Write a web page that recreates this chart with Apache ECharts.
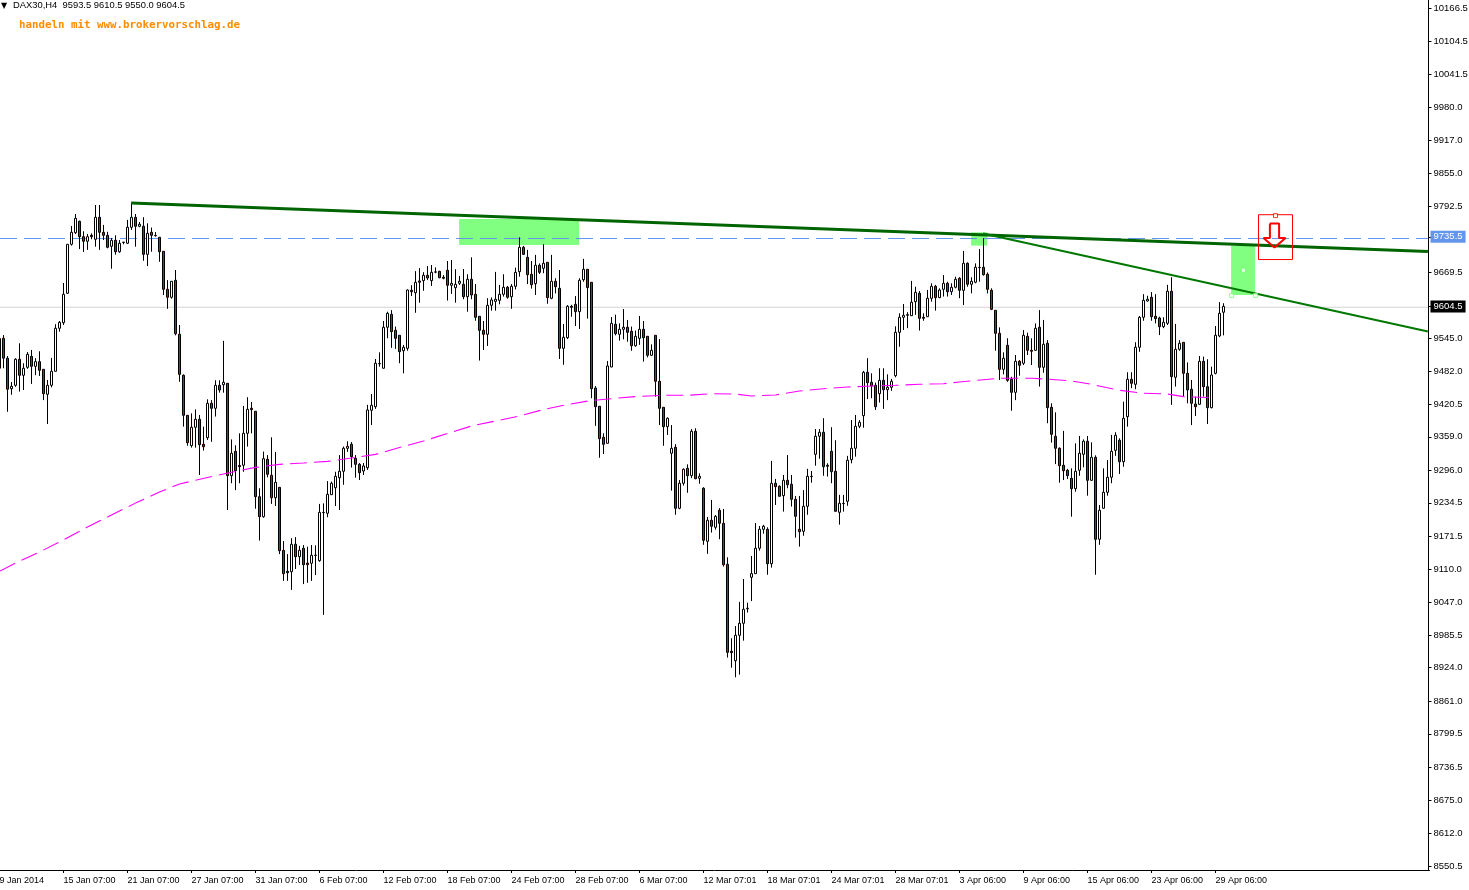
<!DOCTYPE html>
<html><head><meta charset="utf-8"><title>DAX30,H4</title>
<script src="https://cdn.jsdelivr.net/npm/echarts@6/dist/echarts.min.js"></script>
<style>html,body{margin:0;padding:0;background:#fff}#c{width:1469px;height:890px}</style></head>
<body><div id="c"></div>
<script>
const opens=[9488,
9544.4,9506.8,9449.5,9455.9,9504.9,9474.8,9489.8,9510.5,9491.7,9500.4,
9486,9439,9455.9,9482.3,9563.3,9573.8,9629.2,9721.5,9743.3,9764.8,
9735.8,9727.2,9738.4,9730.9,9772.3,9744,9738.4,9717.7,9729,9707.5,
9725,9723.4,9753.5,9772.3,9755.4,9755.4,9702.6,9744.1,9738,9734.7,
9708.3,9636.7,9621.7,9653.7,9552,9474.8,9399.4,9342.2,9376.8,9391.9,
9344.8,9357.2,9422,9412.6,9455.9,9457,9459.7,9285.7,9331.6,9305,
9305.3,9365.5,9412.6,9407,9246.1,9208.4,9316.6,9286.4,9244.2,9263.8,
9145,9105.6,9104.9,9156.5,9133.1,9149,9121,9120.7,9135.5,9125.6,
9216,9214.9,9249.9,9263,9281.9,9294,9337.3,9344.8,9318.4,9307.1,
9294.5,9300.7,9408.9,9415.6,9496.5,9488,9565.2,9589.6,9559.5,9550.1,
9521,9525.6,9634.8,9630.3,9652.4,9653,9663.1,9653,9669,9670.6,
9659.3,9672.5,9644.3,9639.7,9648,9646.2,9622.8,9655.6,9627.3,9585.9,
9559.5,9552,9606.6,9614,9616,9627.3,9640.5,9622.8,9642.4,9669.9,
9715.8,9697,9665,9647.3,9682,9676.3,9687.6,9619.8,9651.8,9638.6,
9525.6,9545.6,9604.7,9608.5,9594.6,9654.8,9674.4,9649.9,9450.8,9416.4,
9358,9346.7,9490.4,9570.8,9552,9561.4,9565.2,9557.6,9530.5,9544.4,
9561.4,9548.2,9512.4,9550.1,9463.5,9414.5,9378,9327.9,9339.2,9224.3,
9271.4,9299.6,9285.7,9369.3,9280.8,9262,9162.1,9201.7,9188.5,9220.5,
9196,9118.8,8955,8937.2,8985,9007.7,9035,9094.3,9101.1,9149,
9184.7,9184.7,9119.9,9271.4,9265.7,9248,9277,9269.5,9241.2,9184.7,
9181,9228,9284,9326,9360,9367.4,9305.3,9331.6,9294,9216.7,
9233,9237.4,9315.8,9337.3,9378.7,9398.7,9480.4,9461.6,9455.9,9440.1,
9465.3,9447.6,9452.2,9474,9555.7,9584,9587.8,9587,9613.4,9629.2,
9584,9585.1,9619.8,9642.4,9621,9636.7,9648,9632.2,9640.5,9657.4,
9634.8,9685.7,9646.2,9650,9677.5,9678.2,9665,9634.8,9597.2,9553.9,
9486,9531.3,9467.2,9442.7,9501.1,9497.4,9548.2,9521.8,9521.8,9565.2,
9489.8,9535,9414.5,9359.9,9337.3,9305.3,9295.9,9280.8,9261.2,9295.9,
9326,9350.5,9277,9320.3,9165.9,9224.3,9254.4,9282.7,9333.5,9352.4,
9312,9396.8,9467.2,9457.8,9527.5,9584,9614.7,9621.7,9585.9,9582.7,
9566.3,9572.7,9633,9471,9523.7,9536.9,9478.5,9448.4,9420.7,9420.1,
9501.1,9453.3,9413.8,9478.5,9548.8,9593.5];
const closes=[9544,
9507,9448.5,9454,9505,9474.8,9488,9514.3,9491.7,9500.4,9484.2,
9440.1,9455.9,9482.3,9563.3,9574.6,9627.3,9721.5,9744.1,9770.4,9735.8,
9727.2,9735.8,9735.8,9772.3,9744.1,9738.4,9715.8,9729,9707.5,9723.4,
9725.5,9753.5,9772.3,9755.4,9759.2,9702.6,9742.2,9738.4,9737.5,9707.5,
9636.7,9621.7,9651.8,9553.1,9476.6,9399.4,9347.8,9376.8,9391.9,9344.1,
9340.3,9422,9412.6,9455.9,9447.1,9461.6,9285.7,9327.9,9295.1,9302.6,
9365.5,9410.7,9410,9246.1,9208.4,9317.7,9288.3,9244.2,9273.2,9144.4,
9101.1,9103,9156.5,9133.1,9145.2,9118,9118,9135.7,9136,9216.7,
9216.5,9250.6,9271.4,9284.5,9294,9337.3,9341,9321.5,9307.1,9291.3,
9304,9409.4,9418.3,9497.4,9497,9565.2,9591.5,9556.9,9544.4,9519.2,
9527.5,9635.4,9632.2,9649.9,9650,9663.1,9658,9668.7,9669.5,9658.6,
9657.4,9644.3,9648,9646,9651.8,9622.8,9655.6,9626,9584,9559.5,
9552,9606.6,9616.6,9618,9627.3,9640.5,9621.7,9642.4,9668.7,9715.8,
9702.6,9664.2,9645.4,9682,9668.7,9685.7,9621,9651.8,9641.6,9525.6,
9546.3,9604.7,9602.8,9594.6,9653.7,9674.4,9639.8,9449.5,9415.6,9355.4,
9344.8,9492.3,9572.7,9553.1,9561.4,9565.2,9555.7,9530.5,9548.2,9561.4,
9545.6,9512.4,9521.8,9463.5,9412.6,9378,9393.8,9337.3,9224.3,9271.4,
9297.7,9285.7,9369.3,9280,9284.5,9164,9201.7,9190.4,9209.2,9196,
9118,8953,8952.4,8985,9007.7,9034.1,9036,9101.1,9149,9184.7,
9190.4,9119.9,9271.4,9265,9246.9,9277,9268.7,9241.2,9209.2,9180.2,
9228,9284.5,9284.5,9360,9367.4,9302.6,9303.4,9293.2,9218.6,9233.7,
9233.5,9314.7,9337.3,9378.7,9386.2,9480.4,9460.8,9454.6,9415.6,9465.3,
9447.6,9452.2,9463.5,9555.7,9584,9587.8,9589,9612.3,9631,9582.1,
9582.1,9619.8,9642.4,9621,9635.4,9648,9632.2,9640.5,9655.6,9634.8,
9685.7,9646.2,9651.8,9678.2,9678,9664.2,9636.7,9599,9553.9,9486,
9506.8,9465.3,9442.7,9501.1,9493.6,9550.1,9521.8,9520,9563.3,9489.8,
9533.2,9413.8,9363.6,9337.3,9304.5,9295,9285.7,9261.2,9294,9327.9,
9350.5,9277,9320.3,9165.9,9220.5,9254.4,9282.7,9331.6,9361.7,9312,
9393.8,9467.2,9459.7,9527.5,9584,9616,9618,9585.1,9581.4,9566.3,
9574.6,9633,9472.2,9523.7,9535,9478.5,9447.1,9422,9415.6,9501.1,
9453.3,9413.8,9475.3,9550.1,9591.5,9604.5];
const lows=[9470,
9488,9406,9438,9453,9444,9447,9487,9458.5,9475,9473.5,
9428,9383,9452,9482,9557,9569.5,9628,9719,9741,9712.5,
9707,9711,9731,9717,9711,9729.5,9714,9675.5,9702,9705.5,
9721.5,9722,9748.5,9717,9753.5,9690.5,9680.5,9707.5,9736,9688.5,
9626,9600,9619,9550,9462.5,9378,9342,9338.5,9338.5,9287,
9333,9353,9349.5,9397,9442,9442,9221,9271.5,9258.5,9271.5,
9293,9340.5,9365.5,9223.5,9163.5,9206.5,9282.5,9232.5,9228.5,9138,
9087.5,9087.5,9070.5,9110,9117.5,9081.5,9084,9087.5,9098.5,9123.5,
9023.5,9207.5,9249.5,9228.5,9221,9268.5,9330.5,9301,9282,9277.5,
9287,9296.5,9381,9411.5,9491,9487.5,9544.5,9526.5,9524.5,9497.5,
9478.5,9521,9624,9592.5,9611.5,9634,9654,9643,9667,9657.5,
9655.5,9615.5,9628,9611.5,9645,9618,9594.5,9618,9577.5,9502.5,
9522.5,9530,9596.5,9596.5,9608.5,9623,9619,9600,9636.5,9660.5,
9701.5,9646.5,9638,9626,9665.5,9667,9609.5,9618,9629,9505.5,
9494.5,9543,9585,9567.5,9562,9651,9581.5,9431.5,9379.5,9319.5,
9326.5,9346,9490,9550,9540,9542.5,9538,9521,9528.5,9532,
9500.5,9508.5,9511,9434.5,9381,9342,9362.5,9257.5,9212,9222.5,
9267,9253.5,9281,9279,9270.5,9155.5,9138.5,9178.5,9184,9166,
9114.5,8943,8924,8906,8911,8975,9028,9049.5,9101,9144.5,
9176.5,9099,9112.5,9230.5,9246,9218,9262,9227.5,9169,9152,
9172.5,9212,9272.5,9304.5,9317.5,9285.5,9284,9271.5,9218,9193.5,
9218,9229,9309,9321.5,9375,9376,9430,9431.5,9409.5,9423.5,
9411.5,9428,9445.5,9471,9528.5,9560,9563.5,9586.5,9588.5,9559,
9577.5,9585,9613.5,9596.5,9620,9623,9623,9626,9638.5,9620,
9607,9641.5,9629,9648,9651,9662.5,9629,9597.5,9521,9466,
9476.5,9462.5,9408,9428,9474,9494,9513,9494,9521,9453.5,
9479.5,9384.5,9348,9307.5,9272.5,9277.5,9279.5,9208.5,9255.5,9285.5,
9301.5,9248,9276,9099,9155.5,9224,9248,9271.5,9323,9289,
9302.5,9378,9450.5,9448.5,9519,9577.5,9613.5,9577.5,9572.5,9550.5,
9563.5,9569.5,9419,9453.5,9521,9434.5,9422,9381,9398,9419,
9434.5,9383,9412.5,9476.5,9546.5,9550];
const highs=[9550,
9550.5,9511,9462,9507,9535,9497.5,9518.5,9522.5,9507,9520,
9486,9466,9507.5,9571,9577,9648.5,9721.5,9756,9778.5,9766,
9746,9741,9742,9795.5,9795.5,9758,9745,9733.5,9738.5,9729.5,
9725.5,9767.5,9798.5,9778.5,9763.5,9772.5,9761,9753,9744.5,9734.5,
9708.5,9654,9652,9673,9569.5,9476.5,9400,9403,9410.5,9400,
9378,9429.5,9428,9465.5,9465.5,9539.5,9459.5,9354,9343,9365.5,
9417,9433.5,9424.5,9407,9262,9331,9324.5,9358,9330.5,9264,
9162.5,9138,9168,9170,9153.5,9155,9152,9155,9154.5,9232.5,
9233.5,9275.5,9274.5,9293,9324.5,9340.5,9350.5,9349,9324.5,9309.5,
9309.5,9419,9439.5,9505.5,9518,9577,9594.5,9597.5,9566.5,9550,
9532,9636.5,9644.5,9671,9676.5,9669,9680.5,9682.5,9678,9671.5,
9663.5,9690,9692,9674.5,9662,9675,9665,9697,9646.5,9586,
9577,9620,9621.5,9669.5,9645,9665,9643,9646.5,9677.5,9734.5,
9718.5,9711,9690,9701.5,9685.5,9721.5,9687.5,9701.5,9657.5,9673,
9571.5,9607,9607.5,9624,9657.5,9694,9674.5,9650,9454.5,9416.5,
9365.5,9501.5,9584.5,9589,9572.5,9599.5,9579,9566.5,9559,9586.5,
9577,9548,9533,9550,9543,9414.5,9395.5,9381,9345,9277.5,
9299.5,9307,9373.5,9375,9290,9264,9208,9240,9211.5,9224.5,
9223,9132,8979.5,9002.5,9048,9091,9046.5,9134.5,9196.5,9191,
9193,9188.5,9313.5,9279.5,9267.5,9287,9324.5,9287,9247.5,9247.5,
9258.5,9298.5,9294.5,9373.5,9373.5,9394,9309,9377,9352.5,9249.5,
9249.5,9323,9390.5,9400,9390.5,9483,9507,9478.5,9461,9488,
9488,9476.5,9468,9567,9591.5,9609,9593.5,9652.5,9641.5,9633.5,
9591.5,9635.5,9648,9645,9638.5,9663.5,9651,9648,9660.5,9659.5,
9709,9687.5,9659.5,9685.5,9712.5,9733,9668.5,9638.5,9597.5,9565,
9518,9544.5,9472,9513,9503.5,9560,9555,9544.5,9572.5,9597.5,
9579,9541,9422,9405,9339,9370,9298.5,9299.5,9346.5,9360.5,
9354,9360.5,9348.5,9324,9230.5,9299.5,9315,9362.5,9367.5,9356,
9425,9480.5,9480.5,9537,9586.5,9627.5,9624.5,9631.5,9627.5,9585,
9584,9645,9659.5,9571.5,9541,9537,9499,9466,9434.5,9511,
9510,9505,9491,9567.5,9612.5,9610.5];

const maBars=[-0.875,3,9,15,21,27,33,39,44,51,57,63,69,75,81,87,93,99,105,111,117,123,129,135,141,147,153,159,165,171,177,183,187,193,199,205,211,217,223,229,235,239,245,249,257,263,267,272,279,285,291,295,303];
const maValues=[9106.1,9121,9142,9164.6,9189,9211.6,9234,9255,9270,9282.3,9292,9301.3,9307,9309.6,9312.6,9319,9325.8,9338.8,9351,9365.2,9379.3,9388.7,9398,9410.3,9419.8,9427.3,9431.4,9435.2,9437.1,9437.1,9439.9,9439.5,9435.8,9437.7,9445.2,9449.5,9452.7,9454.6,9455.9,9457.8,9458.9,9462.1,9466.5,9469.1,9469.1,9466.5,9464,9457.8,9446.5,9440.9,9439.5,9434.5,9432.6];

const tickLabels=['9 Jan 2014','15 Jan 07:00','21 Jan 07:00','27 Jan 07:00','31 Jan 07:00','6 Feb 07:00','12 Feb 07:00','18 Feb 07:00','24 Feb 07:00','28 Feb 07:00','6 Mar 07:00','12 Mar 07:01','18 Mar 07:01','24 Mar 07:01','28 Mar 07:01','3 Apr 06:00','9 Apr 06:00','15 Apr 06:00','23 Apr 06:00','29 Apr 06:00'];
const priceTicks=[10166.5,10104.5,10041.5,9980,9917,9855,9792.5,9735.5,9669.5,9604.5,9545,9482,9420.5,9359,9296,9234.5,9171.5,9110,9047,8985.5,8924,8861,8799.5,8736.5,8675,8612,8550.5];
const priceLabels=['10166.5','10104.5','10041.5','9980.0','9917.0','9855.0','9792.5','9735.5','9669.5','9604.5','9545.0','9482.0','9420.5','9359.0','9296.0','9234.5','9171.5','9110.0','9047.0','8985.5','8924.0','8861.0','8799.5','8736.5','8675.0','8612.0','8550.5'];

const resistanceBars=[31.9,356.1], resistancePrices=[9799.3,9707.9];
const supportBars=[244.9,356.1], supportPrices=[9741.8,9557.2];
const alertLabel=9735.5, lastLabel=9604.5;
const alertLine=9732.4, lastLine=9602.9;
const zoneA={bars:[113.9,143.9],prices:[9769.1,9720.2]};
const zoneB={bars:[241.9,245.9],prices:[9744,9719]};
const zoneC={bars:[306.9,312.9],prices:[9718.3,9626]};
const boxBars=[313.75,322.25,322.25,313.75,313.75], boxPrices=[9777.2,9777.2,9692.8,9692.8,9777.2];
const arrowBars=[316.6,318.9,318.9,320.5,317.75,315,316.6,316.6], arrowPrices=[9760.7,9760.7,9733.4,9733.4,9715.5,9733.4,9733.4,9760.7];

const BARS=358;
const categories=Array.from({length:BARS},(_,i)=> i%16===0 ? (tickLabels[i/16]||'') : '');
const candles=opens.map((o,i)=>[o,closes[i],lows[i],highs[i]]);
const pairs=(a,b)=>a.map((x,i)=>[x,b[i]]);
const overlay=(name,xs,ys,color,width,type,z)=>({name,type:'line',xAxisIndex:1,yAxisIndex:0,data:pairs(xs,ys),showSymbol:false,symbol:'none',silent:true,z,animation:false,lineStyle:{color,width,type,cap:'butt'}});
const zone=z=>[{coord:[z.bars[0],z.prices[0]]},{coord:[z.bars[1],z.prices[1]]}];

const isTick=i=>i%16===0 && i/16<tickLabels.length;
const option={
 animation:false,backgroundColor:'#ffffff',
 title:[
  {text:'▼',left:1,top:2,textStyle:{fontSize:8,fontWeight:'normal',color:'#000',fontFamily:'DejaVu Sans'},padding:0},
  {text:'DAX30,H4  9593.5 9610.5 9550.0 9604.5',left:13,top:0,padding:0,textStyle:{fontSize:9.4,lineHeight:11,fontWeight:'normal',color:'#000',fontFamily:'Liberation Sans'}},
  {text:'handeln mit www.brokervorschlag.de',left:19,top:19,padding:0,textStyle:{fontSize:10.8,lineHeight:12,fontWeight:'bold',color:'#FF8C00',fontFamily:'DejaVu Sans Mono'}}
 ],
 grid:{left:-2.5,top:0,width:1432,height:870,containLabel:false,outerBoundsMode:'none'},
 xAxis:[
  {type:'category',data:categories,boundaryGap:true,position:'bottom',
   axisLine:{show:true,lineStyle:{color:'#000',width:1}},
   axisTick:{show:true,interval:isTick,alignWithLabel:true,length:3,lineStyle:{color:'#000',width:1}},
   axisLabel:{show:true,interval:isTick,align:'left',margin:6,color:'#000',fontSize:9,fontFamily:'Liberation Sans',hideOverlap:false},
   splitLine:{show:false}},
  {type:'value',min:-1.5,max:356.5,show:false,splitLine:{show:false}}
 ],
 yAxis:[{type:'value',position:'right',offset:-1,min:8543,max:10181.6,scale:true,
   axisLine:{show:true,onZero:false,lineStyle:{color:'#000',width:1}},
   axisTick:{show:true,length:3,customValues:priceTicks,lineStyle:{color:'#000',width:1}},
   axisLabel:{show:true,margin:2,customValues:priceTicks,color:'#000',fontSize:9.5,fontFamily:'Liberation Sans',
     formatter:v=>{const s=priceLabels[priceTicks.indexOf(v)]||String(v);
       if(v===alertLabel) return '{a|'+s+'}';
       if(v===lastLabel) return '{b|'+s+'}';
       return '{n|'+s+'}';},
     rich:{
       n:{padding:[1,3,1,3],color:'#000',fontSize:9.5,fontFamily:'Liberation Sans'},
       a:{padding:[1,3,1,3],color:'#fff',backgroundColor:'#6495ED',fontSize:9.5,fontFamily:'Liberation Sans'},
       b:{padding:[1,3,1,3],color:'#fff',backgroundColor:'#000',fontSize:9.5,fontFamily:'Liberation Sans'}
     }},
   splitLine:{show:false}}],
 series:[
  {name:'zones',type:'line',xAxisIndex:1,yAxisIndex:0,data:[],z:1,silent:true,
   markArea:{silent:true,z:1,itemStyle:{color:'#80FF80',opacity:1,borderWidth:0},label:{show:false},data:[zone(zoneA),zone(zoneB),zone(zoneC)]}},
  overlay('alert',[-0.875,356.1],[alertLine,alertLine],'#6495ED',1,[17,7],2),
  overlay('last',[-0.875,356.1],[lastLine,lastLine],'#D3D3D3',1,'solid',2),
  {name:'DAX30',type:'candlestick',xAxisIndex:0,yAxisIndex:0,data:candles,barWidth:3,z:5,silent:true,
   itemStyle:{color:'#FFFFFF',color0:'#FF0000',borderColor:'#000',borderColor0:'#000',borderWidth:1}},
  overlay('MA',maBars,maValues,'#FF00FF',1.1,[17,7],6),
  overlay('resistance',resistanceBars,resistancePrices,'#006400',3,'solid',7),
  overlay('support',supportBars,supportPrices,'#007800',2,'solid',7),
  overlay('box',boxBars,boxPrices,'#FF0000',1,'solid',8),
  overlay('arrow',arrowBars,arrowPrices,'#FF0000',2,'solid',8),
  {name:'handles',type:'scatter',xAxisIndex:1,yAxisIndex:0,z:9,silent:true,symbol:'rect',symbolSize:4,
   itemStyle:{color:'#fff',borderColor:'#80FF80',borderWidth:1},
   data:[[307,9625],[313,9625],{value:[310,9672.5],symbolSize:3,itemStyle:{color:'#fff',borderWidth:0}},{value:[318,9775.5],itemStyle:{color:'#fff',borderColor:'#FF0000',borderWidth:1}}]}
 ]
};
const chart=echarts.init(document.getElementById('c'),null,{renderer:'canvas'});
chart.setOption(option);
</script></body></html>
